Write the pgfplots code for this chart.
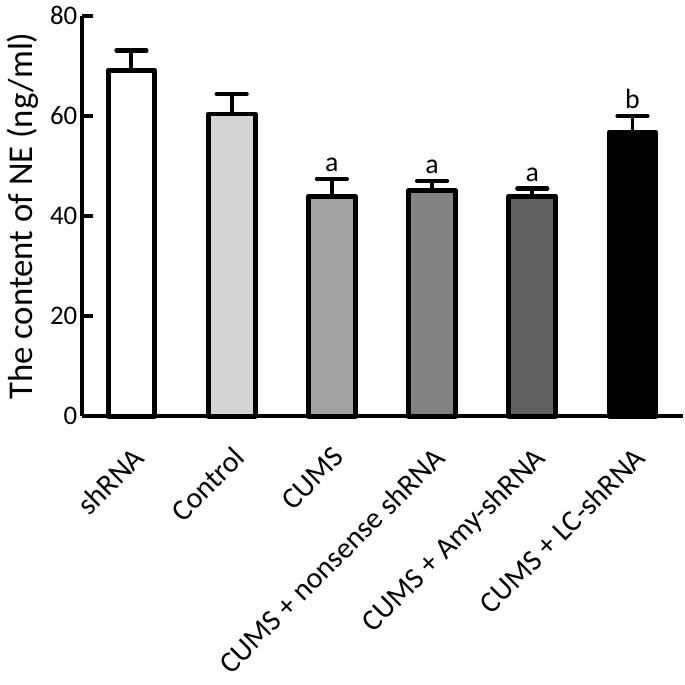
\documentclass[border=0pt]{standalone}
\usepackage{pgfplots}
\pgfplotsset{compat=1.18}
\usepackage{fontspec}
\setmainfont{Carlito}
\definecolor{barA}{RGB}{255,255,255}
\definecolor{barB}{RGB}{212,212,212}
\definecolor{barC}{RGB}{162,162,162}
\definecolor{barD}{RGB}{130,130,130}
\definecolor{barE}{RGB}{97,97,97}
\definecolor{barF}{RGB}{0,0,0}
\begin{document}
\begin{tikzpicture}
\begin{axis}[
    scale only axis,
    width=302pt, height=201.5pt,
    xmin=-0.49, xmax=5.5, ymin=0, ymax=80,
    clip=false,
    axis lines*=left,
    axis line style={line width=1.9pt},
    ytick={0,20,40,60,80},
    tick align=inside,
    major tick length=5.5pt,
    tick style={line width=1.9pt, black},
    xtick={0,...,5},
    xticklabels={shRNA, Control, CUMS, CUMS + nonsense shRNA, CUMS + Amy-shRNA, CUMS + LC-shRNA},
    x tick style={draw=none},
    xticklabel shift=4pt,
    xticklabel style={rotate=45, anchor=north east, font=\fontsize{15}{17}\selectfont},
    yticklabel shift=-1pt,
    yticklabel style={font=\fontsize{13.5}{16}\selectfont},
    /pgf/number format/assume math mode=true,
    ylabel={The content of NE (ng/ml)},
    ylabel style={at={(axis description cs:-0.1,0.5)}, anchor=center, font=\fontsize{17.5}{19}\selectfont},
    ybar, bar width=23.5pt, bar shift=0pt,
    error bars/y dir=plus, error bars/y explicit,
    error bars/error bar style={line width=2pt, black},
    error bars/error mark options={line width=2.2pt, line cap=round, mark size=7.5pt, rotate=90, black},
    every axis plot/.append style={draw=black, line width=2.5pt, line join=round},
]
\addplot[fill=barA] coordinates {(0,69.1) +- (0,4.0)};
\addplot[fill=barB] coordinates {(1,60.4) +- (0,4.0)};
\addplot[fill=barC] coordinates {(2,44.0) +- (0,3.4)};
\addplot[fill=barD] coordinates {(3,45.1) +- (0,1.9)};
\addplot[fill=barE] coordinates {(4,44.0) +- (0,1.5)};
\addplot[fill=barF] coordinates {(5,56.8) +- (0,3.2)};
\node[anchor=south, font=\fontsize{14}{16}\selectfont] at (axis cs:2,47.4) {a};
\node[anchor=south, font=\fontsize{14}{16}\selectfont] at (axis cs:3,47.0) {a};
\node[anchor=south, font=\fontsize{14}{16}\selectfont] at (axis cs:4,45.5) {a};
\node[anchor=south, font=\fontsize{14}{16}\selectfont] at (axis cs:5,60.0) {b};
\end{axis}
\end{tikzpicture}
\end{document}
